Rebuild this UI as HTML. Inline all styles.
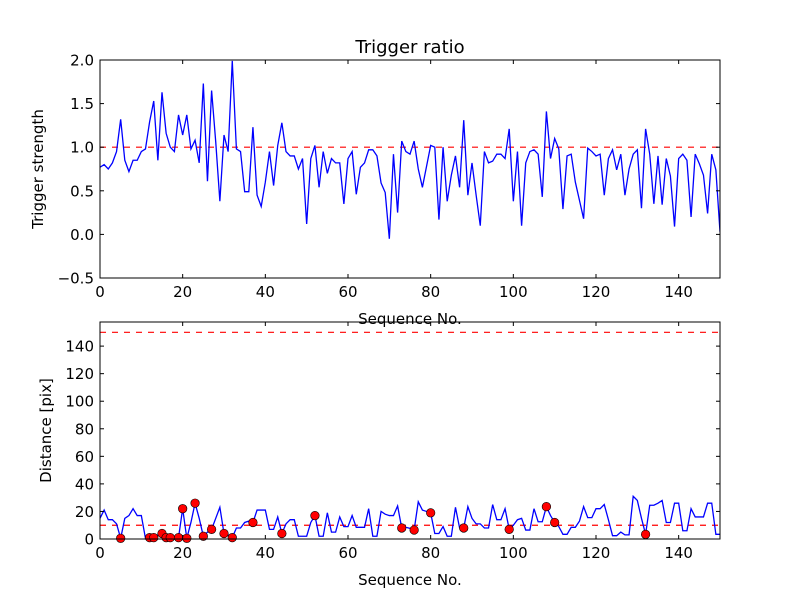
<!DOCTYPE html>
<html><head><meta charset="utf-8"><style>
body{margin:0;background:#fff;}
svg{display:block;font-family:"DejaVu Sans","Liberation Sans",sans-serif;}
</style></head><body>
<svg id="chart" width="800" height="600" viewBox="0 0 800 600"></svg>
<script>
const xTicks = [0,20,40,60,80,100,120,140];
const topYTicks = [-0.5,0.0,0.5,1.0,1.5,2.0];
const topYLabels = ["\u22120.5","0.0","0.5","1.0","1.5","2.0"];
const botYTicks = [0,20,40,60,80,100,120,140];
const ratio = [0.77,0.80,0.75,0.82,0.95,1.32,0.85,0.72,0.85,0.85,0.95,0.98,1.29,1.53,0.85,1.63,1.16,1.0,0.95,1.37,1.14,1.37,0.98,1.08,0.82,1.73,0.61,1.65,1.06,0.38,1.14,0.95,1.99,0.98,0.95,0.49,0.49,1.23,0.45,0.32,0.60,0.95,0.56,1.02,1.28,0.95,0.90,0.90,0.75,0.87,0.12,0.87,1.02,0.54,0.95,0.70,0.87,0.82,0.82,0.35,0.87,0.95,0.46,0.77,0.82,0.97,0.97,0.90,0.59,0.48,-0.05,0.92,0.25,1.07,0.95,0.92,1.07,0.75,0.54,0.78,1.02,1.0,0.17,1.0,0.38,0.68,0.90,0.54,1.31,0.45,0.82,0.45,0.10,0.95,0.82,0.84,0.92,0.92,0.87,1.21,0.38,0.95,0.10,0.82,0.95,0.97,0.92,0.43,1.41,0.87,1.10,0.98,0.29,0.90,0.92,0.60,0.39,0.18,0.99,0.95,0.90,0.92,0.45,0.87,0.97,0.74,0.92,0.45,0.75,0.92,0.97,0.30,1.21,0.92,0.35,0.90,0.34,0.87,0.67,0.09,0.87,0.92,0.85,0.20,0.92,0.81,0.68,0.24,0.92,0.74,0.03];
const distance = [15,21,14,14,11,0.5,15,17,22,17,17,0.5,1,1,3,4,1,1,1,1,22,0.5,12,26,15,2,5,7,15,23,4,3,1,8,8,12,13,12,21,21,21,7,7,16,4,11,14,14,2,2,2,12,17,2,2,19,5,5,16,9,9,17,8.5,8.5,8.5,22,2,2,20,18,17,17,24,8,8.5,7.7,6.5,27,21,20,19,4,4,9,2,2,23,8,8,23.5,15,11,11,8,8,25,14,14,22,7,10,14,15,6.5,6.5,22,12.5,12.5,23.5,17,12,9,3.4,3.4,8.5,8.5,13,23.5,15.5,15.5,22,22,25,14,2.4,2.4,5,3,3,31,28,15,3.4,24.5,24.5,26,28,12,12,26,26,6,6,22,16,16,16,26,26,3.4,3.4];
const markerIdx = [5,12,13,15,16,17,19,20,21,23,25,27,30,32,37,44,52,73,76,80,88,99,108,110,132];
const ratioThreshold = [1.0];
const distThresholds = [10,150];

const NS="http://www.w3.org/2000/svg";
const svg=document.getElementById('chart');
function mk(tag,attrs,parent){const e=document.createElementNS(NS,tag);for(const k in attrs)e.setAttribute(k,attrs[k]);(parent||svg).appendChild(e);return e;}
const X0=100,X1=720;
const sx=v=>X0+(v-0)/(150-0)*(X1-X0);
const topY0=60,topY1=278,sTop=v=>topY1-(v-(-0.5))/(2.0-(-0.5))*(topY1-topY0);
const botY0=322,botY1=539,sBot=v=>botY1-(v-0)/(157.5-0)*(botY1-botY0);

function axes(name,y0,y1,sy,yt,ytl,ytitle,xtitle){
  const g=mk('g',{});
  
  
  xTicks.forEach(t=>{
    const x=sx(t);
    const a=mk('line',{x1:x,x2:x,y1:y1,y2:y1-4,stroke:'#000','stroke-width':1},g);
    
    mk('line',{x1:x,x2:x,y1:y0,y2:y0+4,stroke:'#000','stroke-width':1},g);
    const tx=mk('text',{x:x,y:y1+19,'font-size':15,'text-anchor':'middle'},g);
    
    tx.textContent=t;
  });
  yt.forEach((t,i)=>{
    const y=sy(t);
    const a=mk('line',{x1:X0,x2:X0+4,y1:y,y2:y,stroke:'#000','stroke-width':1},g);
    
    mk('line',{x1:X1,x2:X1-4,y1:y,y2:y,stroke:'#000','stroke-width':1},g);
    const tx=mk('text',{x:X0-6,y:y+5.5,'font-size':15,'text-anchor':'end'},g);
    
    tx.textContent=ytl?ytl[i]:t;
  });
  const yt2=mk('text',{x:0,y:0,'font-size':15,'text-anchor':'middle',transform:`translate(${name==='top-axes'?43:51},${(y0+y1)/2}) rotate(-90)`},g);
  
  yt2.textContent=ytitle;
  const xt=mk('text',{x:(X0+X1)/2,y:y1+46,'font-size':15,'text-anchor':'middle'},g);
  
  xt.textContent=xtitle;
  return g;
}
function border(y0,y1){const r=mk('rect',{x:X0,y:y0,width:X1-X0,height:y1-y0,fill:'none',stroke:'#000','stroke-width':1});}

// top plot
const clip1=mk('clipPath',{id:'c1'});mk('rect',{x:X0,y:topY0,width:X1-X0,height:topY1-topY0},clip1);
ratioThreshold.forEach(v=>{
  const l=mk('line',{x1:X0,x2:X1,y1:sTop(v),y2:sTop(v),stroke:'#ff0000','stroke-width':1.2,'stroke-dasharray':'6,6'});
  
});
const p1=mk('polyline',{points:ratio.map((v,i)=>sx(i)+','+sTop(v)).join(' '),fill:'none',stroke:'#0000ff','stroke-width':1.3,'clip-path':'url(#c1)'});

border(topY0,topY1);
axes('top-axes',topY0,topY1,sTop,topYTicks,topYLabels,'Trigger strength','Sequence No.');
const title=mk('text',{x:410,y:53,'font-size':18,'text-anchor':'middle'});

title.textContent='Trigger ratio';

// bottom plot
distThresholds.forEach(v=>{
  const l=mk('line',{x1:X0,x2:X1,y1:sBot(v),y2:sBot(v),stroke:'#ff0000','stroke-width':1.2,'stroke-dasharray':'6,6'});
  
});
const p2=mk('polyline',{points:distance.map((v,i)=>sx(i)+','+sBot(v)).join(' '),fill:'none',stroke:'#0000ff','stroke-width':1.3});

markerIdx.forEach(i=>{
  const c=mk('circle',{cx:sx(i),cy:sBot(distance[i]),r:4.3,fill:'#ff0000',stroke:'#000','stroke-width':0.6});
  
});
border(botY0,botY1);
axes('bottom-axes',botY0,botY1,sBot,botYTicks,null,'Distance [pix]','Sequence No.');
</script>
</body></html>
